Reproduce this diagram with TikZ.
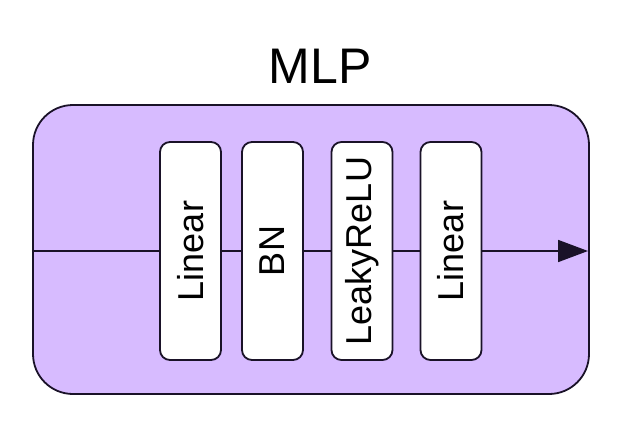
\documentclass[tikz,border=0pt]{standalone}
\usepackage{fontspec}
\setmainfont{Liberation Sans}
\usetikzlibrary{arrows.meta}
\definecolor{mlpfill}{HTML}{D7BBFF}
\definecolor{edge}{HTML}{1A1228}
\begin{document}
\begin{tikzpicture}[x=1pt,y=-1pt,
  layerbox/.style={draw=edge, line width=1.8pt, fill=white, rounded corners=10pt,
    rotate=90, minimum width=218pt, minimum height=61pt, inner sep=0pt,
    font=\fontsize{36}{40}\selectfont},
  flow/.style={draw=edge, line width=1.8pt}]
\useasboundingbox (0,0) rectangle (637,426);
\draw[draw=edge, fill=mlpfill, line width=1.8pt, rounded corners=40pt] (33,105) rectangle (589,394);
\node[font=\fontsize{50}{56}\selectfont] (title) at (320,66) {MLP};
\coordinate (in) at (34,251);
\coordinate (out) at (588,251);
\node[layerbox] (l1) at (190.5,251) {Linear};
\node[layerbox] (bn) at (272.5,251) {BN};
\node[layerbox] (lr) at (362,251) {LeakyReLU};
\node[layerbox] (l2) at (451,251) {Linear};
\draw[flow] (in) -- (l1);
\draw[flow] (l1) -- (bn);
\draw[flow] (bn) -- (lr);
\draw[flow] (lr) -- (l2);
\draw[flow, -{Triangle[length=30pt,width=22pt]}] (l2) -- (out);
\end{tikzpicture}
\end{document}
